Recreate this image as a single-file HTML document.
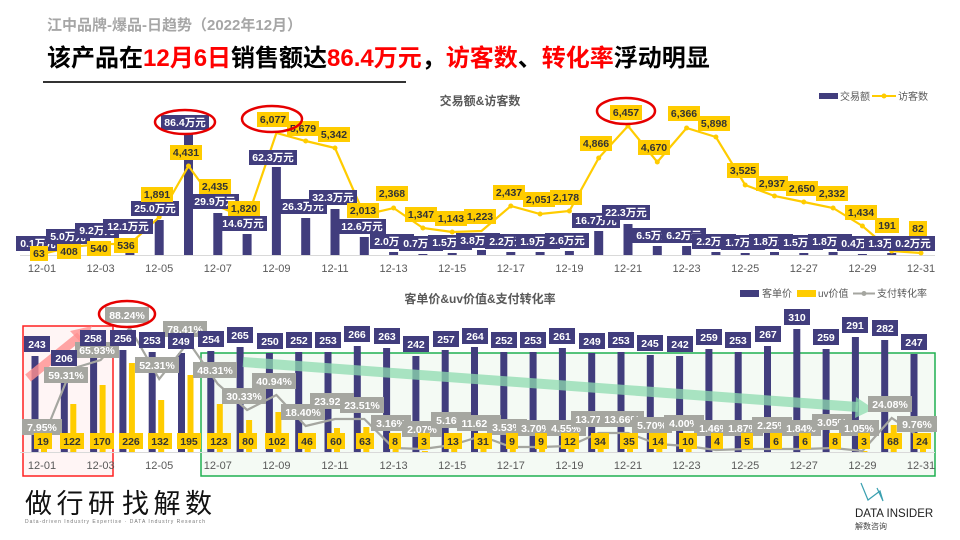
<!DOCTYPE html>
<html><head><meta charset="utf-8"><style>
html,body{margin:0;padding:0;background:#fff;}
svg{display:block;font-family:"Liberation Sans","Noto Sans CJK SC",sans-serif;}
.bl rect{fill:#413d7d}.bl text{fill:#fff;font-size:10.5px;font-weight:bold;text-anchor:middle}
.yl rect{fill:#ffcc00}.yl text{fill:#333;font-size:10.5px;font-weight:bold;text-anchor:middle}
.gl rect{fill:#a5a6a0}.gl text{fill:#fff;font-size:10.5px;font-weight:bold;text-anchor:middle}
.ax text{fill:#595959;font-size:11px;text-anchor:middle}
</style></head><body>
<svg width="960" height="540" viewBox="0 0 960 540" xmlns="http://www.w3.org/2000/svg">
<!-- Header -->
<text x="47" y="30" font-size="15" font-weight="bold" fill="#a6a6a6">江中品牌-爆品-日趋势（2022年12月）</text>
<text x="47" y="66" font-size="24" font-weight="bold" fill="#000">该产品在<tspan fill="#ff0000">12月6日</tspan>销售额达<tspan fill="#ff0000">86.4万元</tspan>，<tspan fill="#ff0000">访客数</tspan>、<tspan fill="#ff0000">转化率</tspan>浮动明显</text>
<rect x="43" y="81" width="363" height="2" fill="#333"/>

<!-- TOP CHART -->
<text x="480" y="105" font-size="12" font-weight="bold" fill="#595959" text-anchor="middle">交易额&amp;访客数</text>
<rect x="819" y="93" width="19" height="6" fill="#413d7d"/><text x="840" y="100" font-size="10" fill="#595959">交易额</text>
<line x1="872" y1="96" x2="896" y2="96" stroke="#ffcc00" stroke-width="2"/><circle cx="884" cy="96" r="2.5" fill="#ffcc00"/><text x="898" y="100" font-size="10" fill="#595959">访客数</text>
<line x1="20" y1="255.5" x2="935" y2="255.5" stroke="#d9d9d9"/>
<g fill="#413d7d">
<rect x="37.5" y="255" width="9" height="0.5"/><rect x="66.8" y="248" width="9" height="7"/><rect x="96.1" y="242" width="9" height="13"/><rect x="125.4" y="238" width="9" height="17"/><rect x="154.7" y="220" width="9" height="35"/><rect x="184" y="133" width="9" height="122"/><rect x="213.3" y="213" width="9" height="42"/><rect x="242.6" y="234" width="9" height="21"/><rect x="271.9" y="167" width="9" height="88"/><rect x="301.2" y="218" width="9" height="37"/><rect x="330.5" y="209" width="9" height="46"/><rect x="359.8" y="237" width="9" height="18"/><rect x="389.1" y="252" width="9" height="3"/><rect x="418.4" y="254" width="9" height="1"/><rect x="447.7" y="253" width="9" height="2"/><rect x="477" y="250" width="9" height="5"/><rect x="506.3" y="252" width="9" height="3"/><rect x="535.6" y="252" width="9" height="3"/><rect x="564.9" y="251" width="9" height="4"/><rect x="594.2" y="231" width="9" height="24"/><rect x="623.5" y="224" width="9" height="31"/><rect x="652.8" y="246" width="9" height="9"/><rect x="682.1" y="246" width="9" height="9"/><rect x="711.4" y="252" width="9" height="3"/><rect x="740.7" y="253" width="9" height="2"/><rect x="770" y="252" width="9" height="3"/><rect x="799.3" y="253" width="9" height="2"/><rect x="828.6" y="252" width="9" height="3"/><rect x="857.9" y="254" width="9" height="1"/><rect x="887.2" y="253" width="9" height="2"/>
</g>
<polyline fill="none" stroke="#ffcc00" stroke-width="2.2" points="42,254 71.3,247 100.6,244 129.9,244 159.2,217 188.5,166 217.8,206 247.1,219 276.4,133 305.7,141 335,148 364.3,215 393.6,208 422.9,228 452.2,232 481.5,231 510.8,206 540.1,214 569.4,211 598.7,158 628,126 657.3,162 686.6,128 715.9,137 745.2,185 774.5,196 803.8,202 833.1,208 862.4,226 891.7,251 921,253"/>
<g fill="#ffcc00"><circle cx="159.2" cy="217" r="2.5"/><circle cx="188.5" cy="166" r="2.5"/><circle cx="305.7" cy="141" r="2.5"/><circle cx="335" cy="148" r="2.5"/><circle cx="393.6" cy="208" r="2.5"/><circle cx="422.9" cy="228" r="2.5"/><circle cx="452.2" cy="232" r="2.5"/><circle cx="510.8" cy="206" r="2.5"/><circle cx="540.1" cy="214" r="2.5"/><circle cx="569.4" cy="211" r="2.5"/><circle cx="598.7" cy="158" r="2.5"/><circle cx="628" cy="126" r="2.5"/><circle cx="657.3" cy="162" r="2.5"/><circle cx="686.6" cy="128" r="2.5"/><circle cx="715.9" cy="137" r="2.5"/><circle cx="745.2" cy="185" r="2.5"/><circle cx="774.5" cy="196" r="2.5"/><circle cx="803.8" cy="202" r="2.5"/><circle cx="833.1" cy="208" r="2.5"/><circle cx="862.4" cy="226" r="2.5"/><circle cx="891.7" cy="251" r="2.5"/><circle cx="921" cy="253" r="2.5"/></g>
<!-- sales labels -->
<g class="bl">
<rect x="16" y="236" width="44" height="15"/><text x="38" y="247">0.1万元</text>
<rect x="46" y="229" width="44" height="15"/><text x="68" y="240">5.0万元</text>
<rect x="75" y="223" width="44" height="15"/><text x="97" y="234">9.2万元</text>
<rect x="103" y="219" width="50" height="15"/><text x="128" y="230">12.1万元</text>
<rect x="131" y="201" width="48" height="15"/><text x="155" y="212">25.0万元</text>
<rect x="161" y="115" width="48" height="15"/><text x="185" y="126">86.4万元</text>
<rect x="191" y="194" width="48" height="15"/><text x="215" y="205">29.9万元</text>
<rect x="219" y="216" width="48" height="15"/><text x="243" y="227">14.6万元</text>
<rect x="249" y="150" width="48" height="15"/><text x="273" y="161">62.3万元</text>
<rect x="279" y="199" width="48" height="15"/><text x="303" y="210">26.3万元</text>
<rect x="309" y="190" width="48" height="15"/><text x="333" y="201">32.3万元</text>
<rect x="338" y="219" width="48" height="15"/><text x="362" y="230">12.6万元</text>
<rect x="370" y="234" width="44" height="15"/><text x="392" y="245">2.0万元</text>
<rect x="399" y="236" width="44" height="15"/><text x="421" y="247">0.7万元</text>
<rect x="428" y="235" width="44" height="15"/><text x="450" y="246">1.5万元</text>
<rect x="456" y="233" width="44" height="15"/><text x="478" y="244">3.8万元</text>
<rect x="485" y="234" width="44" height="15"/><text x="507" y="245">2.2万元</text>
<rect x="516" y="234" width="44" height="15"/><text x="538" y="245">1.9万元</text>
<rect x="545" y="233" width="44" height="15"/><text x="567" y="244">2.6万元</text>
<rect x="572" y="213" width="48" height="15"/><text x="596" y="224">16.7万元</text>
<rect x="602" y="205" width="48" height="15"/><text x="626" y="216">22.3万元</text>
<rect x="632" y="228" width="44" height="15"/><text x="654" y="239">6.5万元</text>
<rect x="662" y="228" width="44" height="15"/><text x="684" y="239">6.2万元</text>
<rect x="692" y="234" width="44" height="15"/><text x="714" y="245">2.2万元</text>
<rect x="721" y="235" width="44" height="15"/><text x="743" y="246">1.7万元</text>
<rect x="749" y="234" width="44" height="15"/><text x="771" y="245">1.8万元</text>
<rect x="779" y="235" width="44" height="15"/><text x="801" y="246">1.5万元</text>
<rect x="808" y="234" width="44" height="15"/><text x="830" y="245">1.8万元</text>
<rect x="837" y="236" width="44" height="15"/><text x="859" y="247">0.4万元</text>
<rect x="864" y="236" width="44" height="15"/><text x="886" y="247">1.3万元</text>
<rect x="891" y="236" width="44" height="15"/><text x="913" y="247">0.2万元</text>
</g>
<g class="yl">
<rect x="30" y="246" width="18" height="15"/><text x="39" y="257">63</text>
<rect x="57" y="244" width="24" height="15"/><text x="69" y="255">408</text>
<rect x="87" y="241" width="24" height="15"/><text x="99" y="252">540</text>
<rect x="114" y="238" width="24" height="15"/><text x="126" y="249">536</text>
<rect x="141" y="187" width="32" height="15"/><text x="157" y="198">1,891</text>
<rect x="170" y="145" width="32" height="15"/><text x="186" y="156">4,431</text>
<rect x="199" y="179" width="32" height="15"/><text x="215" y="190">2,435</text>
<rect x="228" y="201" width="32" height="15"/><text x="244" y="212">1,820</text>
<rect x="257" y="112" width="32" height="15"/><text x="273" y="123">6,077</text>
<rect x="287" y="121" width="32" height="15"/><text x="303" y="132">5,679</text>
<rect x="318" y="127" width="32" height="15"/><text x="334" y="138">5,342</text>
<rect x="347" y="203" width="32" height="15"/><text x="363" y="214">2,013</text>
<rect x="376" y="186" width="32" height="15"/><text x="392" y="197">2,368</text>
<rect x="405" y="207" width="32" height="15"/><text x="421" y="218">1,347</text>
<rect x="435" y="211" width="32" height="15"/><text x="451" y="222">1,143</text>
<rect x="464" y="209" width="32" height="15"/><text x="480" y="220">1,223</text>
<rect x="493" y="185" width="32" height="15"/><text x="509" y="196">2,437</text>
<rect x="523" y="192" width="32" height="15"/><text x="539" y="203">2,051</text>
<rect x="550" y="190" width="32" height="15"/><text x="566" y="201">2,178</text>
<rect x="580" y="136" width="32" height="15"/><text x="596" y="147">4,866</text>
<rect x="610" y="105" width="32" height="15"/><text x="626" y="116">6,457</text>
<rect x="638" y="140" width="32" height="15"/><text x="654" y="151">4,670</text>
<rect x="668" y="106" width="32" height="15"/><text x="684" y="117">6,366</text>
<rect x="698" y="116" width="32" height="15"/><text x="714" y="127">5,898</text>
<rect x="727" y="163" width="32" height="15"/><text x="743" y="174">3,525</text>
<rect x="756" y="176" width="32" height="15"/><text x="772" y="187">2,937</text>
<rect x="786" y="181" width="32" height="15"/><text x="802" y="192">2,650</text>
<rect x="816" y="186" width="32" height="15"/><text x="832" y="197">2,332</text>
<rect x="845" y="205" width="32" height="15"/><text x="861" y="216">1,434</text>
<rect x="875" y="218" width="24" height="15"/><text x="887" y="229">191</text>
<rect x="909" y="221" width="18" height="15"/><text x="918" y="232">82</text>
</g>
<g fill="none" stroke="#e60000" stroke-width="2.5">
<ellipse cx="185" cy="122" rx="30" ry="12"/><ellipse cx="272" cy="119" rx="30" ry="13"/><ellipse cx="626" cy="111" rx="29" ry="13"/>
</g>
<g class="ax">
<text x="42" y="272">12-01</text><text x="100.6" y="272">12-03</text><text x="159.2" y="272">12-05</text><text x="217.8" y="272">12-07</text><text x="276.4" y="272">12-09</text><text x="335" y="272">12-11</text><text x="393.6" y="272">12-13</text><text x="452.2" y="272">12-15</text><text x="510.8" y="272">12-17</text><text x="569.4" y="272">12-19</text><text x="628" y="272">12-21</text><text x="686.6" y="272">12-23</text><text x="745.2" y="272">12-25</text><text x="803.8" y="272">12-27</text><text x="862.4" y="272">12-29</text><text x="921" y="272">12-31</text>
</g>

<!-- BOTTOM CHART -->
<rect x="23" y="326" width="90" height="150" fill="#fff5f5" stroke="#ff2020" stroke-width="1.5"/>
<rect x="201" y="353" width="734" height="123" fill="#f4faf4" stroke="#1fb050" stroke-width="1.5"/>
<text x="480" y="303" font-size="12" font-weight="bold" fill="#595959" text-anchor="middle">客单价&amp;uv价值&amp;支付转化率</text>
<rect x="740" y="290" width="19" height="7" fill="#413d7d"/><text x="762" y="297" font-size="10" fill="#595959">客单价</text>
<rect x="797" y="290" width="19" height="7" fill="#ffcc00"/><text x="818" y="297" font-size="10" fill="#595959">uv价值</text>
<line x1="853" y1="293.5" x2="875" y2="293.5" stroke="#a5a6a0" stroke-width="2"/><circle cx="864" cy="293.5" r="2.5" fill="#a5a6a0"/><text x="877" y="297" font-size="10" fill="#595959">支付转化率</text>
<line x1="20" y1="452.5" x2="935" y2="452.5" stroke="#d9d9d9"/>
<g fill="#413d7d">
<rect x="31.5" y="356" width="7" height="96"/><rect x="60.8" y="370" width="7" height="82"/><rect x="90.1" y="350" width="7" height="102"/><rect x="119.4" y="350" width="7" height="102"/><rect x="148.7" y="352" width="7" height="100"/><rect x="178" y="353" width="7" height="99"/><rect x="207.3" y="351" width="7" height="101"/><rect x="236.6" y="347" width="7" height="105"/><rect x="265.9" y="353" width="7" height="99"/><rect x="295.2" y="352" width="7" height="100"/><rect x="324.5" y="352" width="7" height="100"/><rect x="353.8" y="346" width="7" height="106"/><rect x="383.1" y="348" width="7" height="104"/><rect x="412.4" y="356" width="7" height="96"/><rect x="441.7" y="350" width="7" height="102"/><rect x="471" y="347" width="7" height="105"/><rect x="500.3" y="352" width="7" height="100"/><rect x="529.6" y="352" width="7" height="100"/><rect x="558.9" y="348" width="7" height="104"/><rect x="588.2" y="353" width="7" height="99"/><rect x="617.5" y="352" width="7" height="100"/><rect x="646.8" y="355" width="7" height="97"/><rect x="676.1" y="356" width="7" height="96"/><rect x="705.4" y="349" width="7" height="103"/><rect x="734.7" y="352" width="7" height="100"/><rect x="764" y="346" width="7" height="106"/><rect x="793.3" y="329" width="7" height="123"/><rect x="822.6" y="349" width="7" height="103"/><rect x="851.9" y="337" width="7" height="115"/><rect x="881.2" y="340" width="7" height="112"/><rect x="910.5" y="354" width="7" height="98"/>
</g>
<g fill="#ffcc00">
<rect x="41" y="445" width="6" height="7"/><rect x="70.3" y="404" width="6" height="48"/><rect x="99.6" y="385" width="6" height="67"/><rect x="128.9" y="363" width="6" height="89"/><rect x="158.2" y="400" width="6" height="52"/><rect x="187.5" y="375" width="6" height="77"/><rect x="216.8" y="404" width="6" height="48"/><rect x="246.1" y="420" width="6" height="32"/><rect x="275.4" y="412" width="6" height="40"/><rect x="304.7" y="434" width="6" height="18"/><rect x="334" y="428" width="6" height="24"/><rect x="363.3" y="427" width="6" height="25"/><rect x="392.6" y="449" width="6" height="3"/><rect x="421.9" y="451" width="6" height="1"/><rect x="451.2" y="447" width="6" height="5"/><rect x="480.5" y="440" width="6" height="12"/><rect x="509.8" y="448" width="6" height="4"/><rect x="539.1" y="448" width="6" height="4"/><rect x="568.4" y="447" width="6" height="5"/><rect x="597.7" y="439" width="6" height="13"/><rect x="627" y="438" width="6" height="14"/><rect x="656.3" y="447" width="6" height="5"/><rect x="685.6" y="448" width="6" height="4"/><rect x="861.4" y="451" width="6" height="1"/><rect x="890.7" y="425" width="6" height="27"/><rect x="920" y="443" width="6" height="9"/>
</g>
<!-- arrows -->
<line x1="28" y1="378" x2="80" y2="336" stroke="#ff9090" stroke-width="9" opacity="0.8"/>
<polygon points="92,326 70,331 84,346" fill="#ff9090" opacity="0.8"/>
<line x1="243" y1="362" x2="858" y2="407" stroke="#8fdcb0" stroke-width="10" opacity="0.75"/>
<polygon points="874,409 856,397 855,418" fill="#8fdcb0" opacity="0.75"/>
<polyline fill="none" stroke="#a5a6a0" stroke-width="2.2" points="42,441 71.3,369 100.6,360 129.9,328 159.2,379 188.5,342 217.8,384 247.1,410 276.4,395 305.7,426 335,419 364.3,419 393.6,448 422.9,449 452.2,445 481.5,436 510.8,447 540.1,447 569.4,446 598.7,433 628,433 657.3,444 686.6,446 715.9,450 745.2,449 774.5,449 803.8,449 833.1,448 862.4,451 891.7,418 921,438"/>
<g class="gl">
<rect x="22" y="419" width="40" height="16"/><text x="42" y="431">7.95%</text>
<rect x="44" y="367" width="44" height="16"/><text x="66" y="379">59.31%</text>
<rect x="75" y="342" width="44" height="16"/><text x="97" y="354">65.93%</text>
<rect x="105" y="307" width="44" height="16"/><text x="127" y="319">88.24%</text>
<rect x="135" y="357" width="44" height="16"/><text x="157" y="369">52.31%</text>
<rect x="163" y="321" width="44" height="16"/><text x="185" y="333">78.41%</text>
<rect x="193" y="362" width="44" height="16"/><text x="215" y="374">48.31%</text>
<rect x="222" y="388" width="44" height="16"/><text x="244" y="400">30.33%</text>
<rect x="252" y="373" width="44" height="16"/><text x="274" y="385">40.94%</text>
<rect x="281" y="404" width="44" height="16"/><text x="303" y="416">18.40%</text>
<rect x="310" y="393" width="44" height="16"/><text x="332" y="405">23.92%</text>
<rect x="340" y="397" width="44" height="16"/><text x="362" y="409">23.51%</text>
<rect x="371" y="415" width="40" height="16"/><text x="391" y="427">3.16%</text>
<rect x="402" y="421" width="40" height="16"/><text x="422" y="433">2.07%</text>
<rect x="431" y="412" width="40" height="16"/><text x="451" y="424">5.16%</text>
<rect x="457" y="415" width="44" height="16"/><text x="479" y="427">11.62%</text>
<rect x="487" y="419" width="40" height="16"/><text x="507" y="431">3.53%</text>
<rect x="516" y="420" width="40" height="16"/><text x="536" y="432">3.70%</text>
<rect x="546" y="420" width="40" height="16"/><text x="566" y="432">4.55%</text>
<rect x="571" y="411" width="44" height="16"/><text x="593" y="423">13.77%</text>
<rect x="600" y="411" width="44" height="16"/><text x="622" y="423">13.66%</text>
<rect x="632" y="417" width="40" height="16"/><text x="652" y="429">5.70%</text>
<rect x="664" y="415" width="40" height="16"/><text x="684" y="427">4.00%</text>
<rect x="694" y="420" width="40" height="16"/><text x="714" y="432">1.46%</text>
<rect x="723" y="420" width="40" height="16"/><text x="743" y="432">1.87%</text>
<rect x="752" y="417" width="40" height="16"/><text x="772" y="429">2.25%</text>
<rect x="781" y="420" width="40" height="16"/><text x="801" y="432">1.84%</text>
<rect x="812" y="414" width="40" height="16"/><text x="832" y="426">3.05%</text>
<rect x="839" y="420" width="40" height="16"/><text x="859" y="432">1.05%</text>
<rect x="868" y="396" width="44" height="16"/><text x="890" y="408">24.08%</text>
<rect x="897" y="416" width="40" height="16"/><text x="917" y="428">9.76%</text>
</g>
<ellipse cx="127" cy="314" rx="28" ry="13" fill="none" stroke="#e60000" stroke-width="2.5"/>
<g class="bl">
<rect x="24" y="336" width="26" height="16"/><text x="37" y="348">243</text>
<rect x="51" y="350" width="26" height="16"/><text x="64" y="362">206</text>
<rect x="80" y="330" width="26" height="16"/><text x="93" y="342">258</text>
<rect x="110" y="330" width="26" height="16"/><text x="123" y="342">256</text>
<rect x="139" y="332" width="26" height="16"/><text x="152" y="344">253</text>
<rect x="168" y="333" width="26" height="16"/><text x="181" y="345">249</text>
<rect x="198" y="331" width="26" height="16"/><text x="211" y="343">254</text>
<rect x="227" y="327" width="26" height="16"/><text x="240" y="339">265</text>
<rect x="257" y="333" width="26" height="16"/><text x="270" y="345">250</text>
<rect x="286" y="332" width="26" height="16"/><text x="299" y="344">252</text>
<rect x="315" y="332" width="26" height="16"/><text x="328" y="344">253</text>
<rect x="344" y="326" width="26" height="16"/><text x="357" y="338">266</text>
<rect x="374" y="328" width="26" height="16"/><text x="387" y="340">263</text>
<rect x="403" y="336" width="26" height="16"/><text x="416" y="348">242</text>
<rect x="433" y="331" width="26" height="16"/><text x="446" y="343">257</text>
<rect x="462" y="328" width="26" height="16"/><text x="475" y="340">264</text>
<rect x="491" y="332" width="26" height="16"/><text x="504" y="344">252</text>
<rect x="520" y="332" width="26" height="16"/><text x="533" y="344">253</text>
<rect x="549" y="328" width="26" height="16"/><text x="562" y="340">261</text>
<rect x="579" y="333" width="26" height="16"/><text x="592" y="345">249</text>
<rect x="608" y="332" width="26" height="16"/><text x="621" y="344">253</text>
<rect x="637" y="335" width="26" height="16"/><text x="650" y="347">245</text>
<rect x="667" y="336" width="26" height="16"/><text x="680" y="348">242</text>
<rect x="696" y="329" width="26" height="16"/><text x="709" y="341">259</text>
<rect x="725" y="332" width="26" height="16"/><text x="738" y="344">253</text>
<rect x="755" y="326" width="26" height="16"/><text x="768" y="338">267</text>
<rect x="784" y="309" width="26" height="16"/><text x="797" y="321">310</text>
<rect x="813" y="329" width="26" height="16"/><text x="826" y="341">259</text>
<rect x="842" y="317" width="26" height="16"/><text x="855" y="329">291</text>
<rect x="872" y="320" width="26" height="16"/><text x="885" y="332">282</text>
<rect x="901" y="334" width="26" height="16"/><text x="914" y="346">247</text>
</g>
<g class="yl">
<rect x="34" y="433" width="18" height="16"/><text x="43" y="445">19</text>
<rect x="60" y="433" width="24" height="16"/><text x="72" y="445">122</text>
<rect x="90" y="433" width="24" height="16"/><text x="102" y="445">170</text>
<rect x="119" y="433" width="24" height="16"/><text x="131" y="445">226</text>
<rect x="148" y="433" width="24" height="16"/><text x="160" y="445">132</text>
<rect x="177" y="433" width="24" height="16"/><text x="189" y="445">195</text>
<rect x="207" y="433" width="24" height="16"/><text x="219" y="445">123</text>
<rect x="239" y="433" width="18" height="16"/><text x="248" y="445">80</text>
<rect x="265" y="433" width="24" height="16"/><text x="277" y="445">102</text>
<rect x="298" y="433" width="18" height="16"/><text x="307" y="445">46</text>
<rect x="327" y="433" width="18" height="16"/><text x="336" y="445">60</text>
<rect x="356" y="433" width="18" height="16"/><text x="365" y="445">63</text>
<rect x="389" y="433" width="12" height="16"/><text x="395" y="445">8</text>
<rect x="418" y="433" width="12" height="16"/><text x="424" y="445">3</text>
<rect x="444" y="433" width="18" height="16"/><text x="453" y="445">13</text>
<rect x="474" y="433" width="18" height="16"/><text x="483" y="445">31</text>
<rect x="506" y="433" width="12" height="16"/><text x="512" y="445">9</text>
<rect x="535" y="433" width="12" height="16"/><text x="541" y="445">9</text>
<rect x="561" y="433" width="18" height="16"/><text x="570" y="445">12</text>
<rect x="591" y="433" width="18" height="16"/><text x="600" y="445">34</text>
<rect x="620" y="433" width="18" height="16"/><text x="629" y="445">35</text>
<rect x="649" y="433" width="18" height="16"/><text x="658" y="445">14</text>
<rect x="679" y="433" width="18" height="16"/><text x="688" y="445">10</text>
<rect x="711" y="433" width="12" height="16"/><text x="717" y="445">4</text>
<rect x="741" y="433" width="12" height="16"/><text x="747" y="445">5</text>
<rect x="770" y="433" width="12" height="16"/><text x="776" y="445">6</text>
<rect x="799" y="433" width="12" height="16"/><text x="805" y="445">6</text>
<rect x="829" y="433" width="12" height="16"/><text x="835" y="445">8</text>
<rect x="858" y="433" width="12" height="16"/><text x="864" y="445">3</text>
<rect x="884" y="433" width="18" height="16"/><text x="893" y="445">68</text>
<rect x="913" y="433" width="18" height="16"/><text x="922" y="445">24</text>
</g>
<g class="ax">
<text x="42" y="469">12-01</text><text x="100.6" y="469">12-03</text><text x="159.2" y="469">12-05</text><text x="217.8" y="469">12-07</text><text x="276.4" y="469">12-09</text><text x="335" y="469">12-11</text><text x="393.6" y="469">12-13</text><text x="452.2" y="469">12-15</text><text x="510.8" y="469">12-17</text><text x="569.4" y="469">12-19</text><text x="628" y="469">12-21</text><text x="686.6" y="469">12-23</text><text x="745.2" y="469">12-25</text><text x="803.8" y="469">12-27</text><text x="862.4" y="469">12-29</text><text x="921" y="469">12-31</text>
</g>

<!-- footer -->
<text x="25" y="513" font-size="27" fill="#111" textLength="90">做行研</text>
<text x="122" y="513" font-size="27" fill="#111" textLength="90">找解数</text>
<text x="25" y="523" font-size="5" fill="#777" textLength="180">Data-driven Industry Expertise · DATA Industry Research</text>
<polyline points="861,483 868,500 880,491 883,501 877,488" fill="none" stroke="#3aa0b0" stroke-width="1.2"/>
<text x="855" y="517" font-size="11.5" fill="#222">DATA INSIDER</text>
<text x="855" y="529" font-size="8" fill="#444">解数咨询</text>
</svg>
</body></html>
